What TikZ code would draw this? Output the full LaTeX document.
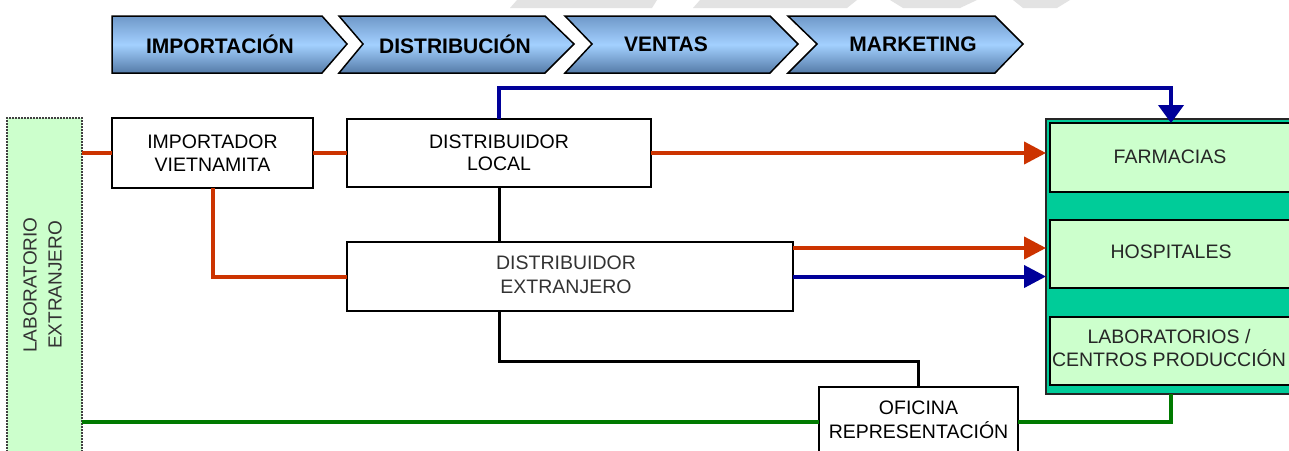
\documentclass[tikz,border=0pt]{standalone}
\usepackage{fontspec}
\setmainfont{Liberation Sans}
\usetikzlibrary{arrows.meta,calc}
\definecolor{redl}{HTML}{CC3300}
\definecolor{bluel}{HTML}{000099}
\definecolor{greenl}{HTML}{007A00}
\definecolor{lgreen}{HTML}{CCFFCC}
\definecolor{contteal}{HTML}{00CC99}
\definecolor{chevtop}{HTML}{6F98C8}
\definecolor{chevmid}{HTML}{A3D0FF}
\definecolor{chevbot}{HTML}{557BA8}
\definecolor{wmark}{HTML}{E3E3E3}
\begin{document}
\begin{tikzpicture}[x=1pt,y=-1pt,
  chev/.style={draw=black, line width=1.5pt, top color=chevtop, bottom color=chevbot, middle color=chevmid},
  chevtext/.style={font=\fontsize{21}{22}\selectfont\bfseries, inner sep=0pt},
  box/.style={draw=black, line width=2.5pt, fill=white, inner sep=0pt, outer sep=0pt, align=center, font=\fontsize{19.5}{22.5}\selectfont},
  greenbox/.style={draw=black, line width=2pt, fill=lgreen, inner sep=0pt, outer sep=0pt, align=center, font=\fontsize{19.5}{23}\selectfont, text=black!85},
  redc/.style={draw=redl, line width=4pt},
  bluec/.style={draw=bluel, line width=4pt},
  blackc/.style={draw=black, line width=3pt},
  greenc/.style={draw=greenl, line width=4pt},
  tipr/.style={-{Triangle[length=22pt,width=22pt]}},
  tipt/.style={-{Triangle[length=18pt,width=25pt]}}
]
\useasboundingbox (0,0) rectangle (1289,450);
\fill[white] (0,0) rectangle (1289,450);
% watermark
\fill[wmark] (517,0) -- (657,0) -- (652,8) -- (510,8) -- cycle;
\fill[wmark] (700,0) -- (857,0) -- (847,8) -- (693,8) -- cycle;
\fill[wmark] (890,0) -- (977,0) -- (960,8) -- (903,8) -- cycle;
\fill[wmark] (1013,0) -- (1070,0) -- (1057,8) -- (1023,8) -- cycle;
% chevrons
\shadedraw[chev] (112,16) -- (322,16) -- (347,44) -- (322,73) -- (112,73) -- cycle;
\shadedraw[chev] (339,16) -- (545,16) -- (574,44) -- (545,73) -- (339,73) -- (363,44) -- cycle;
\shadedraw[chev] (565,16) -- (770,16) -- (798,44) -- (770,73) -- (565,73) -- (592,44) -- cycle;
\shadedraw[chev] (788,16) -- (995,16) -- (1023,44) -- (995,73) -- (788,73) -- (817,44) -- cycle;
\node[chevtext] (c1) at (220,44) {IMPORTACIÓN};
\node[chevtext] (c2) at (455,44) {DISTRIBUCIÓN};
\node[chevtext] (c3) at (666,44) {VENTAS};
\node[chevtext] (c4) at (913,44) {MARKETING};
% left lab
\node[draw=black!75, densely dotted, line width=2pt, fill=lgreen, minimum width=75pt, minimum height=334pt, inner sep=0pt, outer sep=0pt] (lab) at (44.5,285) {};
\node[rotate=90, align=center, font=\fontsize{19}{25}\selectfont, text=black!80, inner sep=0pt] (labt) at (42.5,285) {LABORATORIO\\EXTRANJERO};
% boxes
\node[box, minimum width=201pt, minimum height=70pt] (imp) at (212.5,153) {IMPORTADOR\\VIETNAMITA};
\node[box, minimum width=304pt, minimum height=68pt] (dl) at (499,153) {DISTRIBUIDOR\\LOCAL};
\node[box, minimum width=446pt, minimum height=69pt] (de) at (570,276.5) {};
\node[font=\fontsize{19.5}{24}\selectfont, align=center, text=black!80, inner sep=0pt] (det) at (566,275) {DISTRIBUIDOR\\EXTRANJERO};
\node[box, minimum width=199pt, minimum height=70pt] (ofi) at (918.5,422) {};
\node[font=\fontsize{19.5}{24}\selectfont, align=center, inner sep=0pt] (ofit) at (918.5,420) {OFICINA\\REPRESENTACIÓN};
% right container
\node[draw=black!85, line width=2pt, fill=contteal, minimum width=250pt, minimum height=275pt, inner sep=0pt, outer sep=0pt] (cont) at (1171,256.5) {};
\node[greenbox, minimum width=242pt, minimum height=69pt] (farm) at (1171,157.5) {};
\node[greenbox, minimum width=242pt, minimum height=68pt] (hosp) at (1171,254) {};
\node[greenbox, minimum width=242pt, minimum height=68pt] (labs) at (1171,351) {};
\node[font=\fontsize{19.5}{23}\selectfont, text=black!85, inner sep=0pt] (farmt) at (1170,157) {FARMACIAS};
\node[font=\fontsize{19.5}{23}\selectfont, text=black!85, inner sep=0pt] (hospt) at (1171,252) {HOSPITALES};
\node[font=\fontsize{19.5}{23}\selectfont, text=black!85, inner sep=0pt, align=center] (labst) at (1169,348.5) {LABORATORIOS /\\CENTROS PRODUCCIÓN};
% connectors
\coordinate (btop) at (0,88);
\coordinate (der) at ($(de.north east)+(0,6)$);
\draw[redc] (lab.east |- imp.west) -- (imp.west);
\draw[redc] (imp.east) -- (dl.west);
\draw[redc] (imp.south) |- (de.west);
\draw[redc,tipr] (dl.east) -- (dl.east -| cont.west);
\draw[redc,tipr] (der) -- (der -| cont.west);
\draw[bluec,tipr] (de.east) -- (de.east -| cont.west);
\draw[bluec,tipt] (dl.north) |- (btop -| farm.north) -- (farm.north);
\draw[blackc] (dl.south) -- (dl.south |- de.north);
\draw[blackc] (dl.south |- de.south) -- ++(0,50) -| (ofi.north);
\draw[greenc] (lab.east |- ofi.west) -- (ofi.west);
\draw[greenc] (ofi.east) -| (cont.south);
\end{tikzpicture}
\end{document}
